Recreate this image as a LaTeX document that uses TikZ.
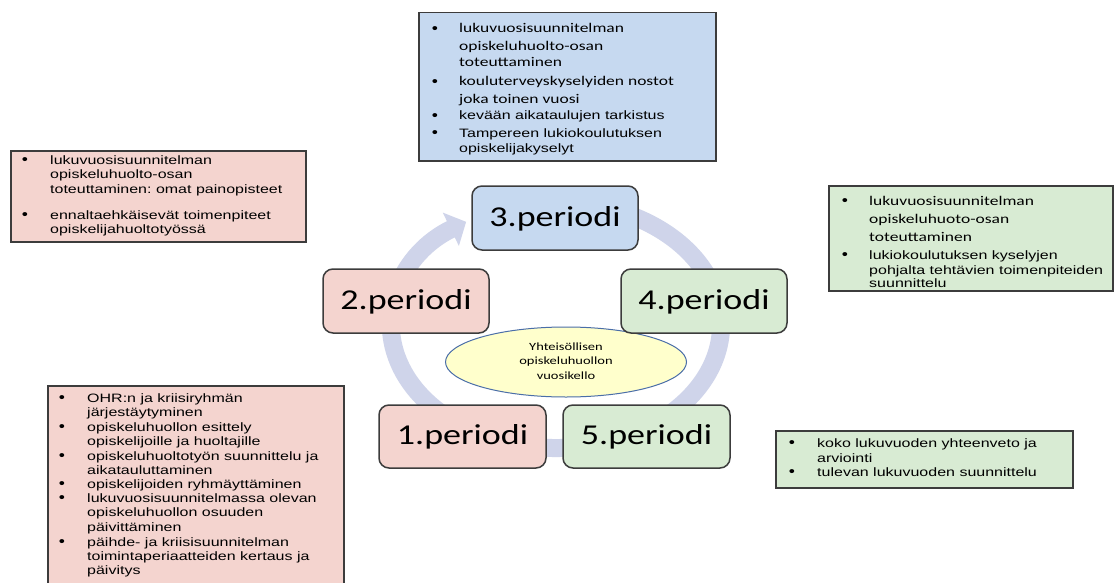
\documentclass[tikz,border=0pt]{standalone}
\usepackage{fontspec}
\usepackage{graphicx}
\usetikzlibrary{arrows.meta,shapes.geometric}
\newfontfamily\calfont{Carlito}
\newfontfamily\arifont{Liberation Sans}
\newcommand{\vsq}[1]{\scalebox{1}[0.76]{#1}}
\newcommand{\vsp}[1]{\scalebox{1}[0.8]{#1}}
\newcommand{\bdot}{\scalebox{1}[0.85]{•}}
\frenchspacing
\definecolor{pinkf}{HTML}{F4D4CF}
\definecolor{bluef}{HTML}{C6D9F0}
\definecolor{greenf}{HTML}{D8EBD3}
\definecolor{ringc}{HTML}{CFD4EA}
\definecolor{ellyel}{HTML}{FFFFCC}
\definecolor{ellblue}{HTML}{4A6EA8}
\definecolor{bordc}{HTML}{3C3C3C}
\tikzset{
  infobox/.style={draw=bordc, line width=1.5pt, anchor=north west, inner sep=0pt},
  period/.style={draw=bordc, line width=1.5pt, rounded corners=10pt, minimum width=166pt, minimum height=64pt, inner sep=0pt, font=\calfont\fontsize{36}{40}\selectfont, text height=20pt, text depth=4pt},
  cline/.style={anchor=base west, inner sep=0pt, font=\calfont\fontsize{17.5}{20}\selectfont},
  aline/.style={anchor=base west, inner sep=0pt, font=\arifont\fontsize{16}{18}\selectfont},
  bul/.style={anchor=base, inner sep=0pt, yshift=-0.8pt, text height=6pt, text depth=0pt, font=\arifont\fontsize{17.5}{18}\selectfont},
  ringstyle/.style={draw=ringc, line width=18pt},
}
\begin{document}
\begin{tikzpicture}[x=1pt,y=-1pt]
\useasboundingbox (0,0) rectangle (1118,583);
\fill[white] (0,0) rectangle (1118,583);

% ring with arrow
\coordinate (rc) at (556,325);
\draw[ringstyle, -{Triangle[width=36pt,length=17pt]}] (rc) ++(250:165 and 123) arc[start angle=250, end angle=597, x radius=165, y radius=123];

% centre ellipse
\node[ellipse, draw=ellblue, fill=ellyel, line width=1pt, minimum width=241pt, minimum height=70pt, inner sep=0pt] (ell) at (566,362)
  {\vsq{\calfont\fontsize{14.5}{19.5}\selectfont\begin{tabular}{@{}c@{}}Yhteisöllisen\\opiskeluhuollon\\vuosikello\end{tabular}}};

% period nodes
\node[period, fill=bluef] (p3) at (555,218) {\vsp{3.periodi}};
\node[period, fill=pinkf] (p2) at (406,301) {\vsp{2.periodi}};
\node[period, fill=greenf] (p4) at (704,301) {\vsp{4.periodi}};
\node[period, fill=pinkf, minimum width=167pt, minimum height=63pt] (p1) at (462.5,436.5) {\vsp{1.periodi}};
\node[period, fill=greenf, minimum width=167pt, minimum height=63pt] (p5) at (646.5,436.5) {\vsp{5.periodi}};

% top box
\node[infobox, fill=bluef, minimum width=297pt, minimum height=148pt] (topbox) at (418,12) {};
\foreach \yy/\t in {33/lukuvuosisuunnitelman, 51/opiskeluhuolto-osan, 67/toteuttaminen, 86/kouluterveyskyselyiden nostot, 104/joka toinen vuosi}
  \node[cline] (tl\yy) at (459,\yy) {\vsq{\t}};
\foreach \yy/\t in {120/kevään aikataulujen tarkistus, 137/Tampereen lukiokoulutuksen, 152/opiskelijakyselyt}
  \node[aline] (tl\yy) at (459,\yy) {\vsq{\t}};
\foreach \yy in {33,86,120,137}
  \node[bul] (tb\yy) at (435,\yy) {\bdot};

% left box
\node[infobox, fill=pinkf, minimum width=295pt, minimum height=91pt] (leftbox) at (10,150) {};
\foreach \yy/\t in {164/lukuvuosisuunnitelman, 178/opiskeluhuolto-osan, 193/toteuttaminen: omat painopisteet, 219/ennaltaehkäisevät toimenpiteet, 233/opiskelijahuoltotyössä}
  \node[aline] (ll\yy) at (50,\yy) {\vsq{\t}};
\foreach \yy in {164,219}
  \node[bul] (lb\yy) at (25,\yy) {\bdot};

% right box
\node[infobox, fill=greenf, minimum width=284pt, minimum height=105pt] (rightbox) at (828,185) {};
\foreach \yy/\t in {205/lukuvuosisuunnitelman, 223/opiskeluhuoto-osan, 241/toteuttaminen}
  \node[cline] (rl\yy) at (869,\yy) {\vsq{\t}};
\foreach \yy/\t in {259/lukiokoulutuksen kyselyjen, 274/pohjalta tehtävien toimenpiteiden, 287/suunnittelu}
  \node[aline] (rl\yy) at (869,\yy) {\vsq{\t}};
\foreach \yy in {205,259}
  \node[bul] (rb\yy) at (845,\yy) {\bdot};

% bottom-left box
\node[infobox, fill=pinkf, minimum width=296pt, minimum height=202pt] (blbox) at (47,385) {};
\foreach \yy/\t in {402/OHR:n ja kriisiryhmän, 416/järjestäytyminen, 431/opiskeluhuollon esittely, 445/opiskelijoille ja huoltajille, 460/opiskeluhuoltotyön suunnittelu ja, 474/aikatauluttaminen, 488/opiskelijoiden ryhmäyttäminen, 502/lukuvuosisuunnitelmassa olevan, 516/opiskeluhuollon osuuden, 531/päivittäminen, 546/päihde- ja kriisisuunnitelman, 560/toimintaperiaatteiden kertaus ja, 574/päivitys}
  \node[aline] (bl\yy) at (87,\yy) {\vsq{\t}};
\foreach \yy in {402,431,460,488,502,546}
  \node[bul] (bb\yy) at (62,\yy) {\bdot};

% bottom-right box
\node[infobox, fill=greenf, minimum width=297pt, minimum height=57pt] (brbox) at (775,430) {};
\foreach \yy/\t in {447/koko lukuvuoden yhteenveto ja, 462/arviointi, 476/tulevan lukuvuoden suunnittelu}
  \node[aline] (br\yy) at (817,\yy) {\vsq{\t}};
\foreach \yy in {447,476}
  \node[bul] (rr\yy) at (792,\yy) {\bdot};
\end{tikzpicture}
\end{document}
